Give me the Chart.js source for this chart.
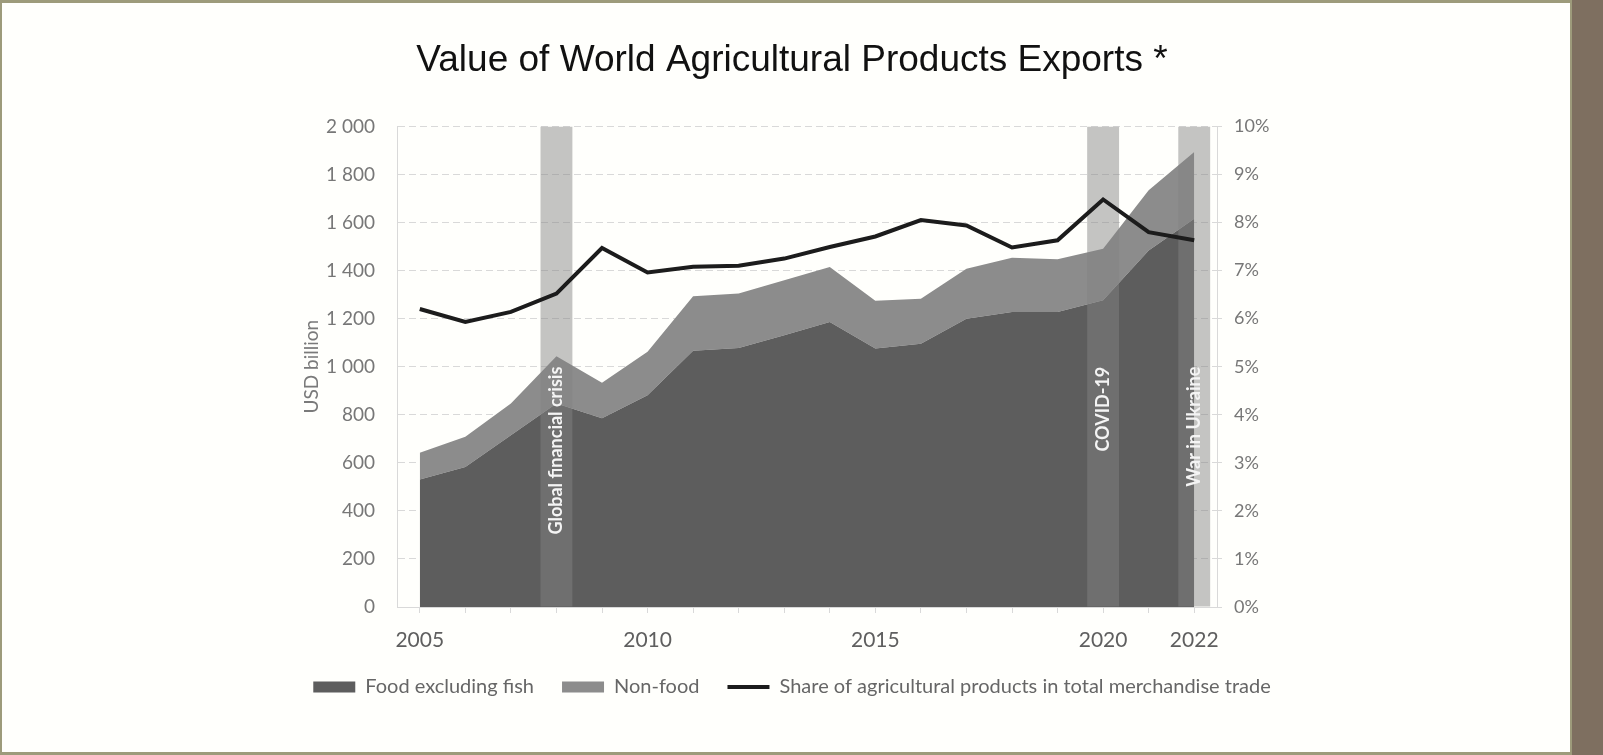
<!DOCTYPE html>
<html>
<head>
<meta charset="utf-8">
<script src="https://cdn.jsdelivr.net/npm/chart.js@4.4.1/dist/chart.umd.min.js"></script>
<style>
  html, body { margin: 0; padding: 0; }
  body { background: #7e6f60; width: 1603px; height: 755px; overflow: hidden; position: relative; }
  #frame { position: absolute; left: 0; top: 0; width: 1568px; height: 749px;
           border: 3px solid #9d9b7b; border-left-width: 2px; border-right-width: 2px; background: #fffffc; }
  #chart { display: block; width: 1568px; height: 749px; }
</style>
</head>
<body>
<div id="frame"><canvas id="chart" width="1568" height="749"></canvas></div>
<script>
// years on the x axis, only some of them get a label
const years = ['2005','2006','2007','2008','2009','2010','2011','2012','2013','2014',
               '2015','2016','2017','2018','2019','2020','2021','2022'];
const shownYears = ['2005','2010','2015','2020','2022'];

// USD billion (stacked)
const foodExFish = [531, 583, 715, 847, 785, 881, 1066, 1078, 1131, 1186, 1076, 1096, 1200, 1228, 1228, 1277, 1484, 1616];
const nonFood    = [111, 125, 132, 197, 148, 181, 227, 227, 229, 229, 198, 187, 208, 225, 219, 214, 250, 277];

// share in total merchandise trade, %
const agShare = [6.20, 5.93, 6.14, 6.52, 7.47, 6.96, 7.08, 7.10, 7.25, 7.49, 7.71, 8.05, 7.94, 7.48, 7.63, 8.48, 7.80, 7.63];

// shaded event bands
const bandYears = ['2008', '2020', '2022'];
const bandNames = ['Global financial crisis', 'COVID-19', 'War in Ukraine'];
const bandTop = 2000;

const bandData = years.map(y => bandYears.includes(y) ? bandTop : null);
const bandText = years.map(y => { const i = bandYears.indexOf(y); return i >= 0 ? bandNames[i] : ''; });

Chart.defaults.font.family = 'Lato, "Open Sans", sans-serif';

const gridCol = '#d9d9d9';

const bandLabels = {
  id: 'bandLabels',
  afterDatasetsDraw(chart, args, opts) {
    const meta = chart.getDatasetMeta(2);
    const ctx = chart.ctx;
    const y = chart.scales.y.getPixelForValue(opts.anchor);
    ctx.save();
    ctx.fillStyle = '#f4f4f4';
    ctx.font = 'bold 18px Lato, sans-serif';
    ctx.textAlign = 'right';
    ctx.textBaseline = 'middle';
    meta.data.forEach((bar, i) => {
      if (!bandText[i]) return;
      ctx.save();
      ctx.translate(bar.x, y);
      ctx.rotate(-Math.PI / 2);
      ctx.fillText(bandText[i], 0, 0);
      ctx.restore();
    });
    ctx.restore();
  }
};

new Chart(document.getElementById('chart'), {
  type: 'line',
  data: {
    labels: years,
    datasets: [
      {
        label: 'Food excluding fish',
        data: foodExFish,
        backgroundColor: '#5d5d5d',
        borderWidth: 0,
        fill: 'origin',
        pointRadius: 0,
        pointStyle: 'rect',
        stack: 'ag',
        order: 2
      },
      {
        label: 'Non-food',
        data: nonFood,
        backgroundColor: '#8c8c8c',
        borderWidth: 0,
        fill: '-1',
        pointRadius: 0,
        pointStyle: 'rect',
        stack: 'ag',
        order: 3
      },
      {
        type: 'bar',
        label: 'bands',
        data: bandData,
        backgroundColor: 'rgba(131,131,131,0.475)',
        barPercentage: 0.7,
        categoryPercentage: 1,
        stack: 'bands',
        order: 1
      },
      {
        label: 'Share of agricultural products in total merchandise trade',
        data: agShare,
        yAxisID: 'y1',
        borderColor: '#1c1c1c',
        backgroundColor: '#1c1c1c',
        borderWidth: 4,
        fill: false,
        tension: 0,
        pointRadius: 0,
        pointStyle: 'line',
        order: 0
      }
    ]
  },
  options: {
    responsive: false,
    animation: false,
    layout: { padding: { left: 212, right: 200, top: 0, bottom: 45 } },
    plugins: {
      title: {
        display: true,
        text: 'Value of World Agricultural Products Exports *',
        color: '#111',
        font: { family: '"Liberation Sans", Arial, sans-serif', size: 37, weight: 'normal' },
        padding: { top: 36, bottom: 43 }
      },
      legend: {
        position: 'bottom',
        labels: {
          filter: item => item.text !== 'bands',
          sort: (a, b) => a.datasetIndex - b.datasetIndex,
          usePointStyle: true,
          pointStyleWidth: 42,
          boxWidth: 42,
          boxHeight: 11,
          padding: 28,
          color: '#666',
          font: { size: 20 }
        }
      },
      tooltip: { enabled: false },
      bandLabels: { anchor: 1000 }
    },
    scales: {
      x: {
        offset: true,
        grid: { offset: false, drawOnChartArea: false, color: gridCol, tickLength: 6 },
        border: { color: gridCol },
        ticks: {
          autoSkip: false,
          maxRotation: 0,
          padding: 15,
          color: '#5f5f5f',
          font: { size: 21 },
          callback: function (v) { const y = this.getLabelForValue(v); return shownYears.includes(y) ? y : ''; }
        },
        afterFit: s => { s.height = 42; }
      },
      y: {
        stacked: true,
        min: 0,
        max: 2000,
        grid: { color: gridCol, drawTicks: false, tickBorderDash: [7, 4] },
        border: { color: gridCol, dash: [7, 4] },
        ticks: {
          stepSize: 200,
          padding: 22,
          color: '#777',
          font: { size: 19 },
          callback: v => v >= 1000 ? Math.floor(v / 1000) + ' ' + String(v % 1000).padStart(3, '0') : String(v)
        },
        title: {
          display: true,
          text: 'USD billion',
          color: '#7a7a7a',
          font: { size: 19 },
          padding: { top: 86, bottom: 0 }
        },
        afterFit: s => { s.width = 183; }
      },
      y1: {
        position: 'right',
        min: 0,
        max: 10,
        grid: { drawOnChartArea: false, color: gridCol, tickLength: 5 },
        border: { color: gridCol },
        ticks: {
          stepSize: 1,
          padding: 12,
          color: '#777',
          font: { size: 18 },
          callback: v => v + '%'
        },
        afterFit: s => { s.width = 153; }
      }
    }
  },
  plugins: [bandLabels]
});
</script>
</body>
</html>
